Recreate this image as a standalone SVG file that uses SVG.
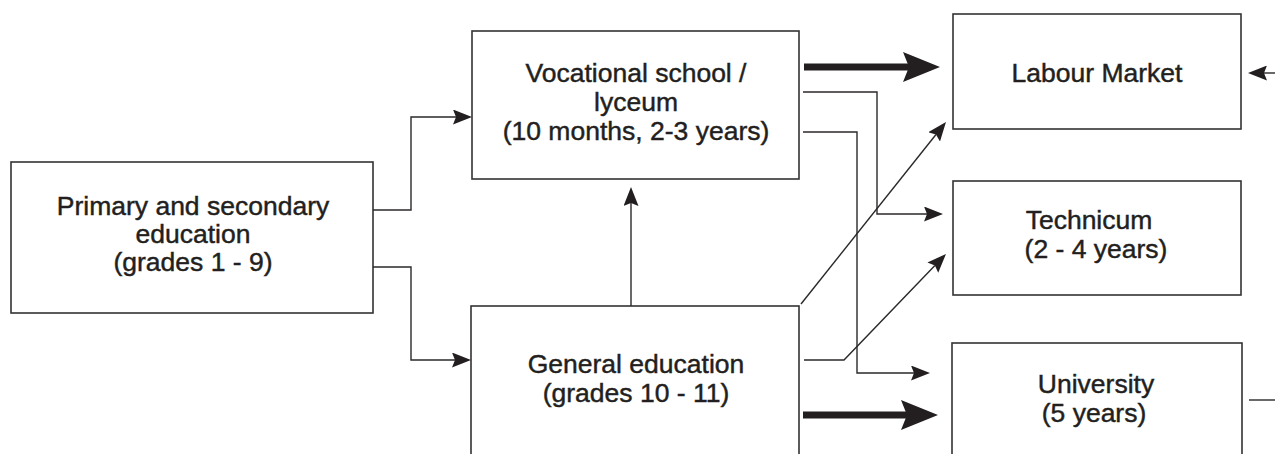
<svg xmlns="http://www.w3.org/2000/svg" width="1275" height="454" viewBox="0 0 1275 454">
<style>
.box{fill:#fff;stroke:#333;stroke-width:1.6}
.lbl{font-family:"Liberation Sans",Arial,sans-serif;font-size:26.5px;fill:#231f20;stroke:#231f20;stroke-width:0.45;text-anchor:middle}
.thin{fill:none;stroke:#2b2829;stroke-width:1.4}
.thick{fill:none;stroke:#231f20;stroke-width:7}
</style>
<defs>
<marker id="ah" markerUnits="userSpaceOnUse" viewBox="0 0 19 15" refX="3" refY="7.5" markerWidth="19" markerHeight="15" orient="auto">
<path d="M0,0 L19,7.5 L0,15 L3,7.5 z" fill="#231f20"/>
</marker>
<marker id="ahBig" markerUnits="userSpaceOnUse" viewBox="0 0 37 30" refX="6" refY="15" markerWidth="37" markerHeight="30" orient="auto">
<path d="M0,0 L37,15 L0,30 L6,15 z" fill="#231f20"/>
</marker>
</defs>
<rect width="1275" height="454" fill="#fff"/>
<g id="primary">
<rect class="box" x="11" y="162" width="362" height="151"/>
<text class="lbl" x="193" y="215">Primary and secondary</text>
<text class="lbl" x="193" y="243">education</text>
<text class="lbl" x="193" y="271">(grades 1 - 9)</text>
</g>
<g id="vocational">
<rect class="box" x="472" y="31" width="327" height="148"/>
<text class="lbl" x="636" y="82">Vocational school /</text>
<text class="lbl" x="636" y="111">lyceum</text>
<text class="lbl" x="636" y="140">(10 months, 2-3 years)</text>
</g>
<g id="general">
<rect class="box" x="471" y="306" width="328" height="160"/>
<text class="lbl" x="636" y="373">General education</text>
<text class="lbl" x="636" y="402">(grades 10 - 11)</text>
</g>
<g id="labour">
<rect class="box" x="953" y="14" width="288" height="115"/>
<text class="lbl" x="1097" y="82">Labour Market</text>
</g>
<g id="technicum">
<rect class="box" x="953" y="181" width="288" height="114"/>
<text class="lbl" x="1089" y="229">Technicum</text>
<text class="lbl" x="1096" y="258">(2 - 4 years)</text>
</g>
<g id="university">
<rect class="box" x="952" y="343" width="290" height="130"/>
<text class="lbl" x="1096" y="393">University</text>
<text class="lbl" x="1094" y="422">(5 years)</text>
</g>
<g id="connectors">
<path class="thin" d="M373,210 H411 V117 H456" marker-end="url(#ah)"/>
<path class="thin" d="M373,267 H411 V360 H455" marker-end="url(#ah)"/>
<path class="thin" d="M631,306 V203" marker-end="url(#ah)"/>
<path class="thick" d="M804,67 H909" marker-end="url(#ahBig)"/>
<path class="thin" d="M803,92 H877 V214 H927" marker-end="url(#ah)"/>
<path class="thin" d="M803,132 H857 V373 H914" marker-end="url(#ah)"/>
<path class="thin" d="M801,304 L936,134.5" marker-end="url(#ah)"/>
<path class="thin" d="M804,360 H844 L934.9,265.5" marker-end="url(#ah)"/>
<path class="thick" d="M803,415 H907" marker-end="url(#ahBig)"/>
<path class="thin" d="M1276,73 H1264" marker-end="url(#ah)"/>
<path class="thin" d="M1249,400 H1276"/>
</g>
</svg>
